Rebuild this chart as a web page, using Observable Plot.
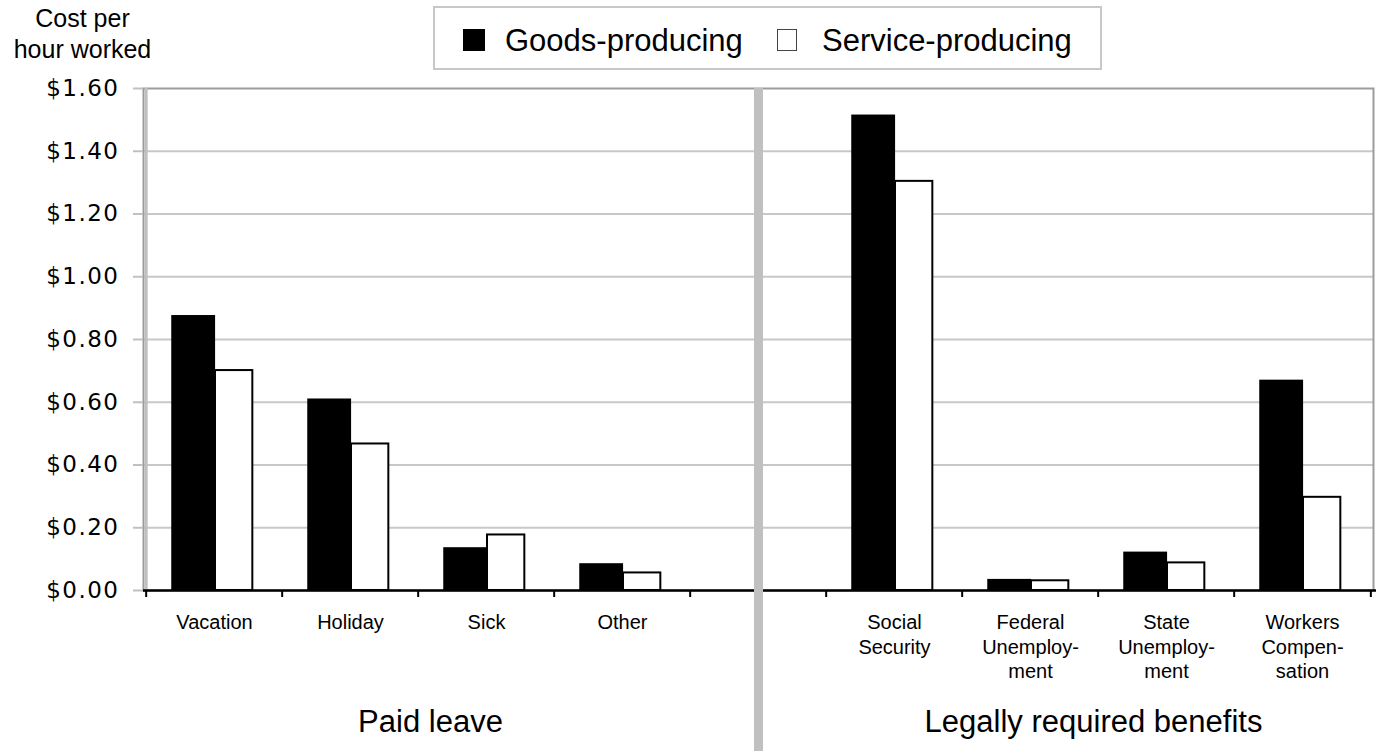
<!DOCTYPE html>
<html><head><meta charset="utf-8">
<script src="https://cdn.jsdelivr.net/npm/d3@7"></script>
<script src="https://cdn.jsdelivr.net/npm/@observablehq/plot@0.6"></script>
<style>
body{margin:0;background:#fff;font-family:"Liberation Sans",Arial,sans-serif;color:#000;}
#wrap{width:1376px;}
#header{position:relative;height:80px;}
#ytitle{position:absolute;left:0;top:3px;width:165px;text-align:center;font-size:25px;line-height:31px;}
#legendbox{position:absolute;left:433px;top:6px;width:669px;height:64px;box-sizing:border-box;border:2px solid #c8c8c8;}
.sw{position:absolute;top:29px;width:22px;height:22px;box-sizing:border-box;}
.lt{position:absolute;top:25px;font-size:31px;line-height:31px;white-space:nowrap;}
</style></head><body>
<div id="wrap">
  <div id="header">
    <div id="ytitle">Cost per<br>hour worked</div>
    <div id="legendbox"></div>
  </div>
  <div id="chart"></div>
</div>
<script>
const categories = ["Vacation","Holiday","Sick","Other"," ","Social\nSecurity","Federal\nUnemploy-\nment","State\nUnemploy-\nment","Workers\nCompen-\nsation"];
const goods   = [0.874, 0.608, 0.134, 0.083, null, 1.513, 0.033, 0.120, 0.668];
const service = [0.701, 0.467, 0.177, 0.056, null, 1.304, 0.031, 0.088, 0.297];
const seriesNames = ["Goods-producing","Service-producing"];
const seriesFill = ["#000000","#ffffff"];
const yTicks = [0, 0.2, 0.4, 0.6, 0.8, 1.0, 1.2, 1.4, 1.6];
const groupLabels = ["Paid leave","Legally required benefits"];

// legend (HTML, above the svg)
const header = document.getElementById("header");
const legendPos = [[463, 505], [777, 822]];
seriesNames.forEach((name, i) => {
  const sw = document.createElement("div");
  sw.className = "sw";
  sw.style.left = legendPos[i][0] + "px";
  sw.style.background = seriesFill[i];
  sw.style.border = i === 0 ? "none" : "1px solid #444";
  if (i === 1) sw.style.width = "20px";
  header.appendChild(sw);
  const t = document.createElement("div");
  t.className = "lt";
  t.style.left = legendPos[i][1] + "px";
  t.textContent = name;
  header.appendChild(t);
});

const rows = categories.flatMap((c, i) => goods[i] == null ? [] : [
  {cat: c, series: seriesNames[0], value: goods[i]},
  {cat: c, series: seriesNames[1], value: service[i]}
]);

const W = 1376, H = 671, mL = 143, mR = 3, mT = 8, mB = 161;
const step = (W - mL - mR) / categories.length;
const fmt = d3.format("$.2f");

const chart = Plot.plot({
  width: W, height: H,
  marginLeft: mL, marginRight: mR, marginTop: mT, marginBottom: mB,
  style: {fontFamily: "Liberation Sans, Arial, sans-serif", fontSize: "20px", background: "#fff", overflow: "visible"},
  x: {type: "band", domain: categories, paddingInner: 0, paddingOuter: 0, axis: null, label: null},
  y: {domain: [0, 1.6], axis: null, label: null},
  marks: [
    Plot.ruleY(yTicks.filter(v => v > 0 && v < 1.6), {stroke: "#c8c8c8", strokeWidth: 2}),
    Plot.frame({stroke: "#9c9c9c", strokeWidth: 2}),
    Plot.ruleX([categories[0]], {x: d => d, dx: -step / 2, stroke: "#c0c0c0", strokeWidth: 3}),
    Plot.barY(rows.filter(d => d.series === seriesNames[0]), {
      x: "cat", y: "value", fill: seriesFill[0], stroke: "#000", strokeWidth: 1.5,
      insetLeft: 26, insetRight: step - 69
    }),
    Plot.barY(rows.filter(d => d.series === seriesNames[1]), {
      x: "cat", y: "value", fill: seriesFill[1], stroke: "#000", strokeWidth: 2,
      insetLeft: 69, insetRight: step - 107
    }),
    Plot.ruleY([0], {stroke: "#000", strokeWidth: 2.5, insetRight: -3}),
    Plot.ruleX(categories, {x: d => d, y1: 0, y2: 0, insetBottom: -7, dx: -step / 2, stroke: "#000", strokeWidth: 2}),
    Plot.ruleX([categories[categories.length - 1]], {x: d => d, y1: 0, y2: 0, insetBottom: -7, dx: step / 2, stroke: "#000", strokeWidth: 2}),
    Plot.axisY(yTicks, {
      label: null,
      tickSize: 10, tickPadding: 14, tickFormat: fmt, stroke: "#c0c0c0", strokeWidth: 2, fill: "#000",
      fontFamily: "DejaVu Sans, sans-serif", fontSize: 23
    }),
    Plot.axisX({
      label: null,
      tickSize: 0, tickPadding: 21, fontSize: 20, lineHeight: 1.23, fill: "#000",
      fontFamily: "Liberation Sans, Arial, sans-serif"
    }),
    Plot.ruleX([categories[4]], {x: d => d, stroke: "#c0c0c0", strokeWidth: 9, insetBottom: -mB}),
    Plot.text([groupLabels[0]], {x: () => categories[2], text: d => d, frameAnchor: "bottom", lineAnchor: "top", dy: 119, dx: -56, fontSize: 31, fill: "#000"}),
    Plot.text([groupLabels[1]], {x: () => categories[7], text: d => d, frameAnchor: "bottom", lineAnchor: "top", dy: 119, dx: -73, fontSize: 31, fill: "#000"})
  ]
});
document.getElementById("chart").appendChild(chart);
chart.querySelectorAll('g[aria-label="y-axis tick label"] text').forEach(t => t.style.letterSpacing = "1.5px");
</script>
</body></html>
